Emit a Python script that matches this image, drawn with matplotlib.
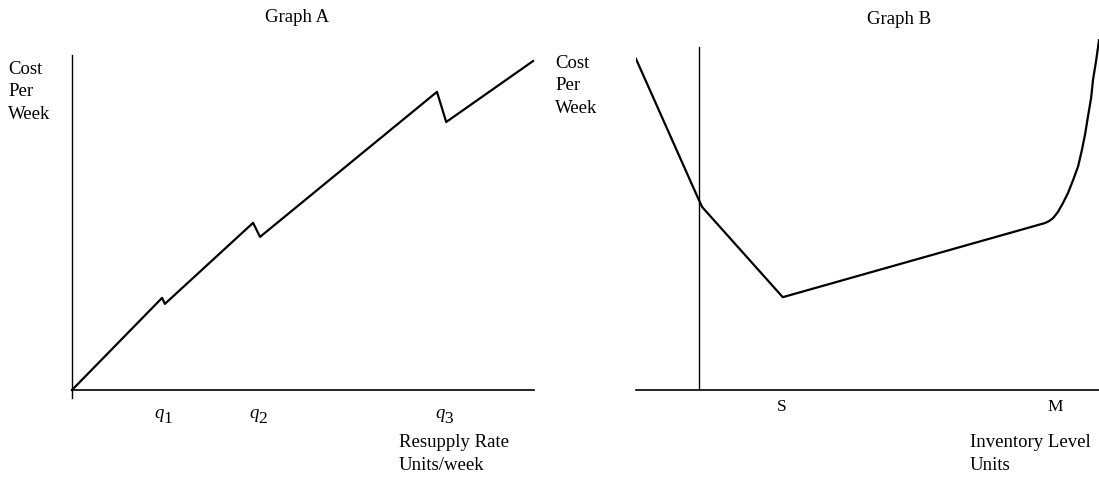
import matplotlib
matplotlib.use("Agg")
import matplotlib.pyplot as plt

plt.rcParams['font.family'] = ['Liberation Serif', 'DejaVu Serif']

# Graph A: cost per week vs resupply rate (arbitrary units 0-100)
rate = [0, 19.5, 20.1, 39.2, 40.7, 79.0, 81.0, 99.8]
cost_a = [0, 27.5, 25.7, 49.9, 45.7, 89.0, 80.0, 98.2]
q_pos = [19.7, 40.3, 80.5]
q_subs = ["1", "2", "3"]

# Graph B: cost per week vs inventory level
level = [0, 13.4, 14.3, 31.7, 88.3, 89.2, 90.1, 91.1, 92.2, 93.3, 94.4, 95.5,
         96.3, 97.0, 97.6, 98.3, 98.7, 99.4, 100]
cost_b = [84.9, 49.2, 46.9, 23.8, 42.8, 43.3, 44.1, 45.6, 47.9, 50.5, 53.8, 57.4,
          61.5, 65.6, 70.0, 74.9, 79.5, 84.6, 89.7]
safety_level = 13.6
b_ticks = [31.5, 90.5]
b_labels = ["S", "M"]

W, H = 1099, 478
fig = plt.figure(figsize=(W / 100, H / 100), dpi=100)

def px_axes(left, top, right, bottom):
    return fig.add_axes([left / W, 1 - bottom / H, (right - left) / W, (bottom - top) / H])

fs = 13.5

# ---- Graph A
ax = px_axes(72, 55, 534, 390)
ax.set_xlim(0, 100)
ax.set_ylim(0, 100)
ax.axis('off')
ax.plot([0, 0], [-2.4, 100], color='black', lw=1.0, clip_on=False)
ax.plot([0, 100], [0, 0], color='black', lw=1.2, clip_on=False)
ax.plot(rate, cost_a, color='black', lw=1.6, clip_on=False)
for x, sub in zip(q_pos, q_subs):
    ax.annotate("q", (x, -7.0), xytext=(-3, 0), textcoords='offset points',
                ha='center', va='center', fontsize=fs, fontstyle='italic',
                annotation_clip=False)
    ax.annotate(sub, (x, -7.0), xytext=(3.5, -4), textcoords='offset points',
                ha='center', va='center', fontsize=fs - 1, annotation_clip=False)

fig.text(297 / W, 1 - 17 / H, "Graph A", ha='center', va='center', fontsize=fs)
fig.text(8 / W, 1 - 92 / H, "Cost\nPer\nWeek", ha='left', va='center',
         fontsize=fs, linespacing=1.4)
fig.text(399 / W, 1 - 454 / H, "Resupply Rate\nUnits/week", ha='left', va='center',
         fontsize=fs, linespacing=1.4)

# ---- Graph B
bx = px_axes(636, 0, 1099, 390)
bx.set_xlim(0, 100)
bx.set_ylim(0, 100)
bx.axis('off')
bx.plot([safety_level, safety_level], [0, 87.9], color='black', lw=1.0)
bx.plot([0, 100], [0, 0], color='black', lw=1.2, clip_on=False)
bx.plot(level, cost_b, color='black', lw=1.6)
for x, lab in zip(b_ticks, b_labels):
    bx.text(x, -4.4, lab, ha='center', va='center', fontsize=fs - 1)

fig.text(899 / W, 1 - 19 / H, "Graph B", ha='center', va='center', fontsize=fs)
fig.text(555 / W, 1 - 86 / H, "Cost\nPer\nWeek", ha='left', va='center',
         fontsize=fs, linespacing=1.4)
fig.text(970 / W, 1 - 454 / H, "Inventory Level\nUnits", ha='left', va='center',
         fontsize=fs, linespacing=1.4)

fig.savefig("out.png", dpi=100, facecolor='white')
